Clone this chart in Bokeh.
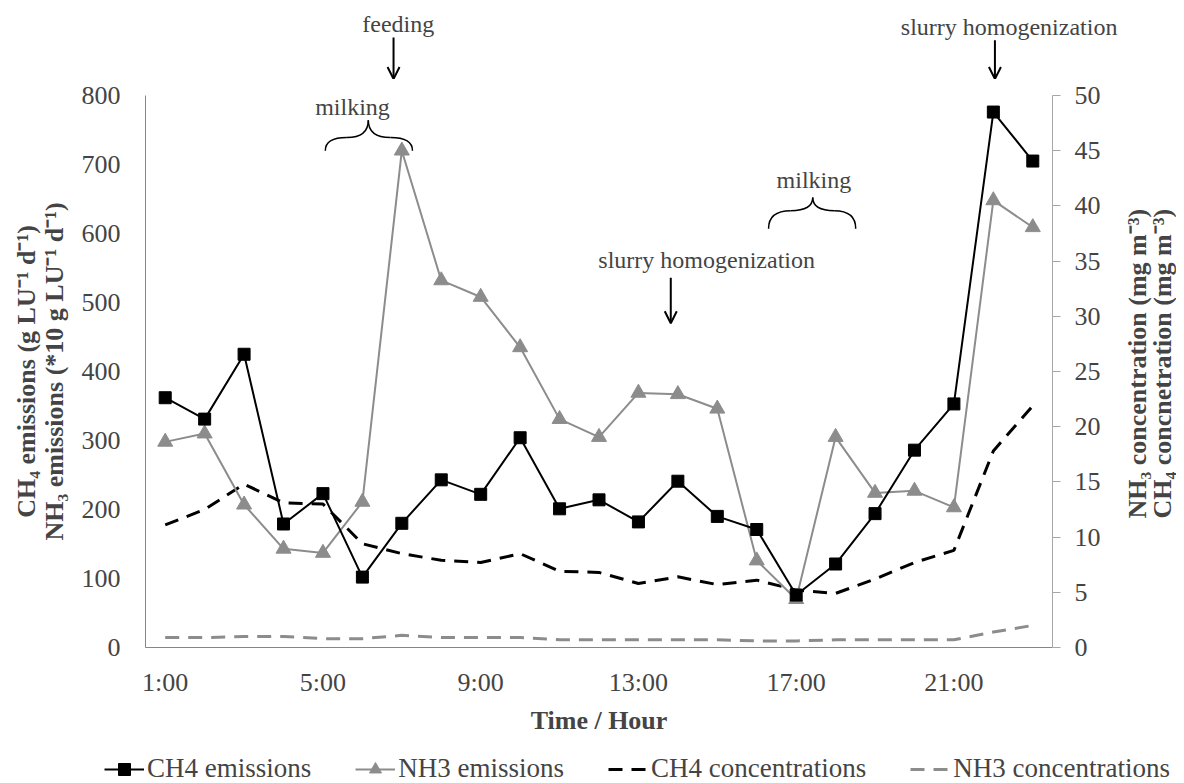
import math
from bokeh.plotting import figure
from bokeh.layouts import column, row
from bokeh.models import (Range1d, LinearAxis, FixedTicker, Label, Arrow, OpenHead,
                          Legend, LegendItem, ColumnDataSource)
from bokeh.embed import file_html
from bokeh.resources import INLINE

# ---------------- data ----------------
hours = list(range(1, 24))
tick_hours = [1, 5, 9, 13, 17, 21]
tick_labels = ["1:00", "5:00", "9:00", "13:00", "17:00", "21:00"]
left_ticks = [0, 100, 200, 300, 400, 500, 600, 700, 800]
right_ticks = [0, 5, 10, 15, 20, 25, 30, 35, 40, 45, 50]

ch4_emissions = [362, 331, 425, 179, 223, 102, 180, 243, 222, 304, 201, 214,
                 182, 241, 190, 171, 76, 121, 194, 286, 353, 776, 705]
nh3_emissions = [298, 310, 207, 143, 137, 211, 720, 532, 508, 435, 331, 305,
                 369, 367, 346, 126, 70, 305, 224, 227, 203, 648, 609]
ch4_concentrations = [11.1, 12.5, 14.8, 13.1, 13.0, 9.4, 8.5, 7.9, 7.7, 8.5, 6.9, 6.8,
                      5.8, 6.4, 5.7, 6.1, 5.2, 4.9, 6.2, 7.7, 8.8, 17.8, 21.9]
nh3_concentrations = [0.9, 0.9, 1.0, 1.0, 0.8, 0.8, 1.1, 0.9, 0.9, 0.9, 0.7, 0.7,
                      0.7, 0.7, 0.7, 0.6, 0.6, 0.7, 0.7, 0.7, 0.7, 1.4, 2.0]

FONT = "Liberation Serif"
GRAY = "#8c8c8c"
AXIS_GRAY = "#868686"

TOTAL_W, TOTAL_H = 1176, 781
LEFT_B, FRAME_W, RIGHT_B = 145, 907, 53
SIDE_W = TOTAL_W - LEFT_B - FRAME_W - RIGHT_B   # strip right of the plot (titles)
TOP_H = 79                                       # strip above the plot (notes)
MAIN_TOP, FRAME_H, MAIN_BOTTOM = 16, 552, 85
MAIN_H = MAIN_TOP + FRAME_H + MAIN_BOTTOM
BOTTOM_H = TOTAL_H - TOP_H - MAIN_H              # strip below (legend)
X0, X1 = 0.5, 23.5
Y_MAX, C_MAX = 800, 50
ux = (X1 - X0) / FRAME_W          # hours per pixel
uy = Y_MAX / FRAME_H              # left-axis units per pixel


def strip(width, height, xr, yr):
    f = figure(width=width, height=height, output_backend="svg", toolbar_location=None,
               x_range=xr, y_range=yr, min_border=0, x_axis_type=None,
               y_axis_type=None, frame_align=False)
    f.outline_line_color = None
    f.xgrid.visible = False
    f.ygrid.visible = False
    return f


# ---------------- main plot ----------------
p = figure(frame_width=FRAME_W, frame_height=FRAME_H, output_backend="svg",
           toolbar_location=None, x_range=Range1d(X0, X1), y_range=Range1d(0, Y_MAX),
           min_border_left=LEFT_B, min_border_right=RIGHT_B, min_border_top=MAIN_TOP,
           min_border_bottom=MAIN_BOTTOM, frame_align=False)
p.extra_y_ranges = {"conc": Range1d(0, C_MAX)}
p.outline_line_color = None
p.xgrid.visible = False
p.ygrid.visible = False

src = ColumnDataSource(dict(h=hours, ch4e=ch4_emissions, nh3e=nh3_emissions,
                            ch4c=ch4_concentrations, nh3c=nh3_concentrations))

STY = dict(
    ch4c=dict(line_color="black", line_width=3, line_dash="14 9"),
    nh3c=dict(line_color=GRAY, line_width=3, line_dash="14 9"),
    nh3l=dict(line_color=GRAY, line_width=2),
    nh3m=dict(marker="triangle", size=15, fill_color=GRAY, line_color=GRAY),
    ch4l=dict(line_color="black", line_width=2),
    ch4m=dict(marker="square", size=12, fill_color="black", line_color="black"),
)

p.line("h", "ch4c", source=src, y_range_name="conc", **STY["ch4c"])
p.line("h", "nh3c", source=src, y_range_name="conc", **STY["nh3c"])
p.line("h", "nh3e", source=src, **STY["nh3l"])
p.scatter("h", "nh3e", source=src, **STY["nh3m"])
p.line("h", "ch4e", source=src, **STY["ch4l"])
p.scatter("h", "ch4e", source=src, **STY["ch4m"])

xa = p.xaxis[0]
xa.ticker = FixedTicker(ticks=tick_hours)
xa.major_label_overrides = {h: t for h, t in zip(tick_hours, tick_labels)}
xa.major_tick_line_color = None
xa.minor_tick_line_color = None
xa.axis_line_color = AXIS_GRAY
xa.major_label_text_font = FONT
xa.major_label_text_font_size = "26px"
xa.major_label_standoff = 14
xa.axis_label = "Time / Hour"
xa.axis_label_text_font = FONT
xa.axis_label_text_font_style = "bold"
xa.axis_label_text_font_size = "26px"
xa.axis_label_standoff = 6

ya = p.yaxis[0]
ya.ticker = FixedTicker(ticks=left_ticks)
ya.major_tick_line_color = None
ya.minor_tick_line_color = None
ya.axis_line_color = AXIS_GRAY
ya.major_label_text_font = FONT
ya.major_label_text_font_size = "26px"
ya.major_label_standoff = 19
ya.axis_label = "CH₄ emissions (g LU⁻¹ d⁻¹)\nNH₃ emissions (*10 g LU⁻¹ d⁻¹)"
ya.axis_label_text_font = FONT
ya.axis_label_text_font_style = "bold"
ya.axis_label_text_font_size = "26px"
ya.axis_label_text_line_height = 0.95
ya.axis_label_standoff = 10

ra = LinearAxis(y_range_name="conc", ticker=FixedTicker(ticks=right_ticks))
ra.axis_line_color = "#a6a6a6"
ra.major_tick_line_color = "#a6a6a6"
ra.major_tick_in = 0
ra.major_tick_out = 8
ra.minor_tick_line_color = None
ra.major_label_text_font = FONT
ra.major_label_text_font_size = "26px"
ra.major_label_standoff = 14
p.add_layout(ra, "right")

# ---------------- annotation helpers ----------------
def note(fig, x, y, text, size="24px", bold=False, angle=0.0):
    fig.add_layout(Label(x=x, y=y, text=text, text_font=FONT, text_font_size=size,
                         text_font_style="bold" if bold else "normal", angle=angle,
                         text_align="center", text_baseline="middle"))

def arrow(fig, x, y0, y1):
    fig.add_layout(Arrow(x_start=x, y_start=y0, x_end=x, y_end=y1, line_width=2,
                         line_color="black",
                         end=OpenHead(size=12, line_width=2, line_color="black")))

def brace(fig, x0, xc, x1, y_end, y_sh, y_top):
    a = dict(x0=[], y0=[], x1=[], y1=[], cx=[], cy=[])
    for xs, xm in ((x0, xc), (x1, xc)):
        mid = (xs + xm) / 2
        for seg in ((xs, y_end, mid, y_sh, xs, y_sh), (mid, y_sh, xm, y_top, xm, y_sh)):
            for k, v in zip(("x0", "y0", "x1", "y1", "cx", "cy"), seg):
                a[k].append(v)
    fig.quadratic(x0="x0", y0="y0", x1="x1", y1="y1", cx="cx", cy="cy",
                  source=ColumnDataSource(a), line_color="black", line_width=1.5)

note(p, 5.75, 783, "milking")
brace(p, 5.06, 6.15, 7.27, 720, 739, 764)
note(p, 14.73, 562, "slurry homogenization")
arrow(p, 13.82, 536, 470)
note(p, 17.45, 678, "milking")
brace(p, 16.30, 17.42, 18.51, 607, 633, 652)

# ---------------- strip above the plot (same data scales) ----------------
top = strip(TOTAL_W, TOP_H,
            Range1d(X0 - LEFT_B * ux, X1 + (RIGHT_B + SIDE_W) * ux),
            Range1d(Y_MAX + MAIN_TOP * uy, Y_MAX + (MAIN_TOP + TOP_H) * uy))
note(top, 6.91, 904, "feeding")
arrow(top, 6.79, 884, 824)
note(top, 22.4, 899, "slurry homogenization")
arrow(top, 22.04, 880, 824)

# ---------------- strip right of the plot: right axis title ----------------
side = strip(SIDE_W, MAIN_H, Range1d(0, SIDE_W),
             Range1d(-MAIN_BOTTOM * uy, Y_MAX + MAIN_TOP * uy))
note(side, 32, 416, "NH₃ concentration  (mg m⁻³)", size="26px", bold=True,
     angle=math.pi / 2)
note(side, 57, 416, "CH₄ concnetration  (mg m⁻³)", size="26px", bold=True,
     angle=math.pi / 2)

# ---------------- legend strip ----------------
# the series are re-used here only as legend samples (x range keeps them out of view)
bot = strip(TOTAL_W, BOTTOM_H, Range1d(100, 101), Range1d(0, 1))
l1 = bot.line("h", "ch4e", source=src, **STY["ch4l"])
m1 = bot.scatter("h", "ch4e", source=src, **STY["ch4m"])
l2 = bot.line("h", "nh3e", source=src, **STY["nh3l"])
m2 = bot.scatter("h", "nh3e", source=src, **STY["nh3m"])
l3 = bot.line("h", "ch4c", source=src, **STY["ch4c"])
l4 = bot.line("h", "nh3c", source=src, **STY["nh3c"])
legend = Legend(items=[
    LegendItem(label="CH4 emissions", renderers=[l1, m1]),
    LegendItem(label="NH3 emissions", renderers=[l2, m2]),
    LegendItem(label="CH4 concentrations", renderers=[l3]),
    LegendItem(label="NH3 concentrations", renderers=[l4]),
], orientation="horizontal", location=(104, 2), label_text_font=FONT,
    label_text_font_size="27px", glyph_width=40, glyph_height=30, spacing=44,
    label_standoff=3, border_line_color=None, background_fill_alpha=0,
    padding=0, margin=0)
bot.add_layout(legend, "center")

layout = column(top, row(p, side, spacing=0), bot, spacing=0)
open("out.html", "w").write(file_html(layout, INLINE))
